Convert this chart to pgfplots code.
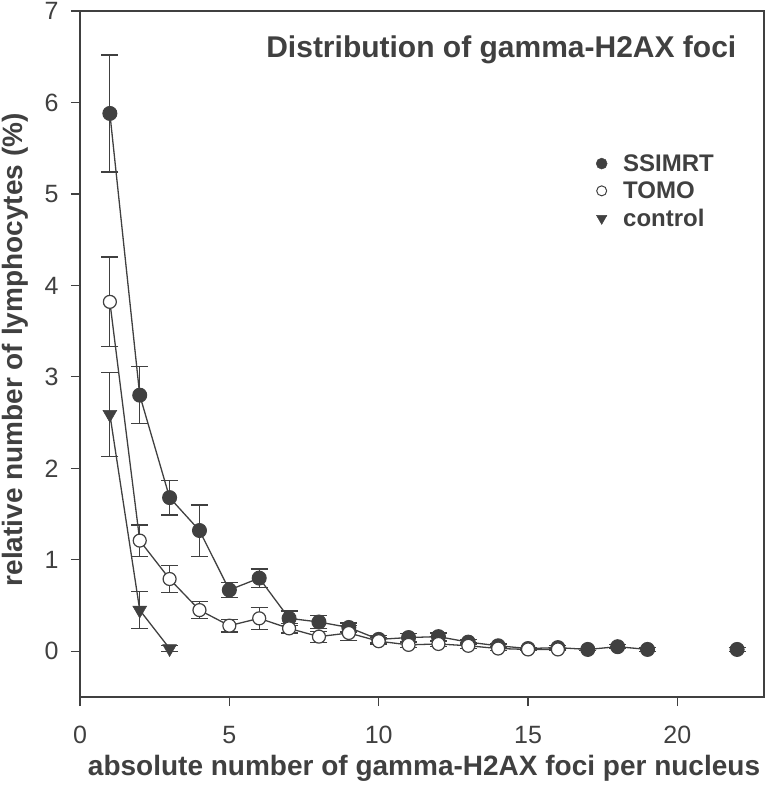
\documentclass[border=0pt]{standalone}
\usepackage{fontspec}
\setmainfont{Liberation Sans}
\usepackage{pgfplots}
\pgfplotsset{compat=1.18}
\definecolor{dg}{HTML}{404040}
\begin{document}
\begin{tikzpicture}[x=1pt,y=1pt]
\path[use as bounding box] (-80,-99) rectangle (688,697);
\begin{axis}[
  at={(0,0)}, anchor=south west, scale only axis,
  width=684pt, height=686pt,
  xmin=0, xmax=22.9, ymin=-0.5, ymax=7,
  axis line style={dg, line width=1.2pt},
  xtick={0,5,10,15,20}, ytick={0,1,...,7},
  tick align=outside, tick pos=left, major tick length=9pt,
  tick style={dg, line width=1.2pt},
  ticklabel style={font=\fontsize{25}{25}\selectfont, text=dg},
  /pgf/number format/assume math mode=true,
  xticklabel style={yshift=-17pt},
  yticklabel style={xshift=-9pt},
  xlabel={absolute number of gamma-H2AX foci per nucleus},
  ylabel={relative number of lymphocytes (\%)},
  every axis x label/.style={at={(axis description cs:0.503,-0.1035)}, anchor=center,
    font=\bfseries\fontsize{28}{28}\selectfont, text=dg},
  every axis y label/.style={at={(axis description cs:-0.095,0.506)}, anchor=center, rotate=90,
    font=\bfseries\fontsize{28}{28}\selectfont, text=dg},
  legend style={at={(axis description cs:0.75,0.797)}, anchor=north west, draw=none, fill=none,
    font=\bfseries\fontsize{24}{24}\selectfont, text=dg, row sep=5pt, column sep=14pt},
  legend cell align=left,
  unbounded coords=jump,
  clip=false,
]
\addlegendimage{only marks, mark=*, mark size=5.5pt, mark options={fill=dg, draw=dg}}
\addlegendentry{SSIMRT}
\addlegendimage{only marks, mark=o, mark size=5pt, mark options={fill=white, draw=dg, line width=1pt}}
\addlegendentry{TOMO}
\addlegendimage{only marks, mark=triangle*, mark size=6pt, mark options={rotate=180, fill=dg, draw=dg}}
\addlegendentry{control}

\addplot[forget plot, dg, line width=1.3pt, mark=*, mark size=7pt,
  mark options={fill=dg, draw=dg, line width=1pt},
  error bars/.cd, y dir=both, y explicit,
  error bar style={dg, line width=1.2pt},
  error mark options={rotate=90, mark size=8.5pt, line width=1.2pt, dg}]
coordinates {
(1,5.88) +- (0,0.64)
(2,2.80) +- (0,0.31)
(3,1.68) +- (0,0.19)
(4,1.32) +- (0,0.28)
(5,0.67) +- (0,0.08)
(6,0.80) +- (0,0.10)
(7,0.36) +- (0,0.08)
(8,0.32) +- (0,0.07)
(9,0.26) +- (0,0.05)
(10,0.13) +- (0,0.04)
(11,0.15) +- (0,0.04)
(12,0.16) +- (0,0.04)
(13,0.10) +- (0,0.03)
(14,0.06) +- (0,0.02)
(15,0.03) +- (0,0.01)
(16,0.04) +- (0,0.02)
(17,0.02) +- (0,0.01)
(18,0.05) +- (0,0.02)
(19,0.02) +- (0,0.02)
(20,nan) +- (0,0)
(22,0.02) +- (0,0.02)
};

\addplot[forget plot, dg, line width=1.3pt, mark=*, mark size=6.5pt,
  mark options={fill=white, draw=dg, line width=1.2pt},
  error bars/.cd, y dir=both, y explicit,
  error bar style={dg, line width=1.2pt},
  error mark options={rotate=90, mark size=8.5pt, line width=1.2pt, dg}]
coordinates {
(1,3.82) +- (0,0.49)
(2,1.21) +- (0,0.17)
(3,0.79) +- (0,0.15)
(4,0.45) +- (0,0.09)
(5,0.28) +- (0,0.07)
(6,0.36) +- (0,0.12)
(7,0.25) +- (0,0.05)
(8,0.16) +- (0,0.06)
(9,0.20) +- (0,0.08)
(10,0.11) +- (0,0.04)
(11,0.07) +- (0,0.03)
(12,0.08) +- (0,0.03)
(13,0.06) +- (0,0.03)
(14,0.03) +- (0,0.02)
(15,0.02) +- (0,0.01)
(16,0.02) +- (0,0.01)
};

\addplot[forget plot, dg, line width=1.3pt, mark=triangle*, mark size=8pt,
  mark options={rotate=180, fill=dg, draw=dg, line width=0.5pt},
  error bars/.cd, y dir=both, y explicit,
  error bar style={dg, line width=1.2pt},
  error mark options={rotate=90, mark size=8.5pt, line width=1.2pt, dg}]
coordinates {
(1,2.59) +- (0,0.46)
(2,0.45) +- (0,0.20)
(3,0.03) +- (0,0.03)
};

\node[font=\bfseries\fontsize{30}{30}\selectfont, text=dg] at (axis description cs:0.616,0.943) {Distribution of gamma-H2AX foci};
\end{axis}
\end{tikzpicture}
\end{document}
